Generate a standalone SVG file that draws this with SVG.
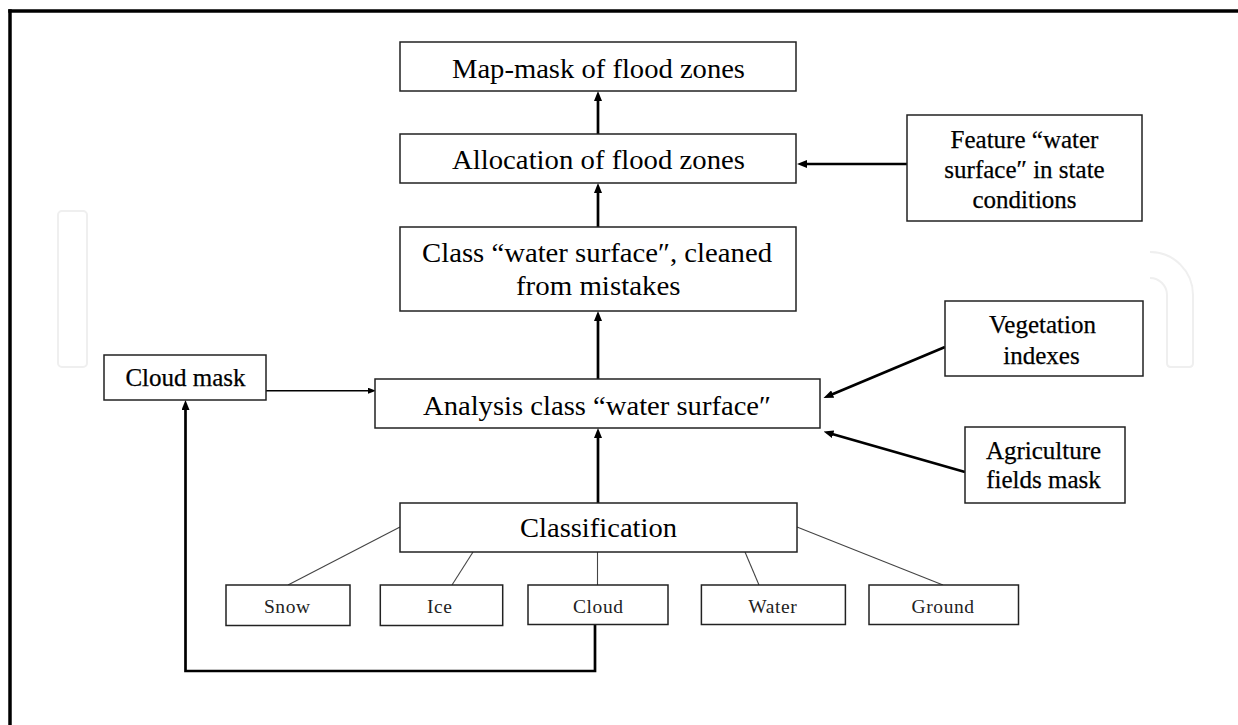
<svg xmlns="http://www.w3.org/2000/svg" width="1238" height="725" viewBox="0 0 1238 725" font-family="Liberation Serif, serif">
  <style>
    .box { fill: #fff; stroke: #222; stroke-width: 1.5; }
    .main { font-family: 'Liberation Serif', serif; font-size: 27.5px; fill: #000; }
    .side { font-family: 'Liberation Serif', serif; font-size: 25px; fill: #000; stroke: #000; stroke-width: 0.25; text-anchor: middle; }
    .small { font-family: 'Liberation Serif', serif; font-size: 19.5px; fill: #222; letter-spacing: 0.6px; text-anchor: middle; }
    .thick { fill: none; stroke: #000; stroke-width: 2.7; }
    .thin { fill: none; stroke: #000; stroke-width: 1.5; }
    .tree { fill: none; stroke: #444; stroke-width: 1.1; }
    .wm { fill: none; stroke: #efefef; stroke-width: 2; }
  </style>
  <defs>
    <marker id="ah" markerUnits="userSpaceOnUse" viewBox="0 0 10 8" markerWidth="10" markerHeight="8" refX="1" refY="4" orient="auto">
      <path d="M0,0 L10,4 L0,8 z" fill="#000"/>
    </marker>
    <marker id="ahs" markerUnits="userSpaceOnUse" viewBox="0 0 8 6" markerWidth="8" markerHeight="6" refX="1" refY="3" orient="auto">
      <path d="M0,0 L8,3 L0,6 z" fill="#000"/>
    </marker>
  </defs>

  <rect x="0" y="0" width="1238" height="725" fill="#fff"/>

  <!-- watermark -->
  <g id="watermark">
    <rect class="wm" x="58" y="211" width="29" height="156" rx="4"/>
    <path class="wm" d="M1150 252 A43 43 0 0 1 1193 295 V363 Q1193 367 1189 367 H1171 Q1167 367 1167 363 V295 A17 17 0 0 0 1150 278"/>
  </g>

  <!-- frame -->
  <g id="frame">
    <line x1="8.25" y1="11" x2="1238" y2="11" stroke="#000" stroke-width="3.5"/>
    <line x1="10" y1="9.25" x2="10" y2="725" stroke="#000" stroke-width="3.5"/>
  </g>

  <!-- connectors -->
  <g id="connectors">
    <line class="thick" x1="598" y1="134" x2="598" y2="100" marker-end="url(#ah)"/>
    <line class="thick" x1="598" y1="227" x2="598" y2="192" marker-end="url(#ah)"/>
    <line class="thick" x1="598" y1="379" x2="598" y2="320" marker-end="url(#ah)"/>
    <line class="thick" x1="598" y1="503" x2="598" y2="437" marker-end="url(#ah)"/>
    <line class="thick" x1="907" y1="164" x2="806" y2="164" stroke-width="2.5" marker-end="url(#ah)"/>
    <line class="thick" x1="945" y1="347" x2="831.8" y2="394.5" stroke-width="2.5" marker-end="url(#ah)"/>
    <line class="thick" x1="965" y1="472" x2="832.2" y2="434" stroke-width="2.5" marker-end="url(#ah)"/>
    <line class="thin" x1="266" y1="390.7" x2="369" y2="390.7" marker-end="url(#ahs)"/>
    <path class="thick" d="M595 624 V671 H185.5 V409" stroke-width="3" marker-end="url(#ah)"/>
    <line class="tree" x1="400" y1="527" x2="288" y2="585"/>
    <line class="tree" x1="473" y1="552" x2="452" y2="585"/>
    <line class="tree" x1="597.5" y1="552" x2="597.5" y2="585"/>
    <line class="tree" x1="745" y1="552" x2="759" y2="585"/>
    <line class="tree" x1="797" y1="527" x2="943" y2="585"/>
  </g>

  <!-- nodes -->
  <g id="map-mask">
    <rect class="box" x="400" y="42" width="396" height="49"/>
    <text class="main" x="452" y="77.5" textLength="293" lengthAdjust="spacingAndGlyphs">Map-mask of flood zones</text>
  </g>
  <g id="allocation">
    <rect class="box" x="400" y="134" width="396" height="49"/>
    <text class="main" x="452" y="168.5" textLength="293" lengthAdjust="spacingAndGlyphs">Allocation of flood zones</text>
  </g>
  <g id="class-cleaned">
    <rect class="box" x="400" y="227" width="396" height="84"/>
    <text class="main" x="422" y="262" textLength="350" lengthAdjust="spacingAndGlyphs">Class “water surface″, cleaned</text>
    <text class="main" x="516" y="295" textLength="164.5" lengthAdjust="spacingAndGlyphs">from mistakes</text>
  </g>
  <g id="analysis">
    <rect class="box" x="375" y="379" width="445" height="49"/>
    <text class="main" x="423" y="414.5" textLength="348" lengthAdjust="spacingAndGlyphs">Analysis class “water surface″</text>
  </g>
  <g id="classification">
    <rect class="box" x="400" y="503" width="397" height="49"/>
    <text class="main" x="520" y="537" textLength="157" lengthAdjust="spacingAndGlyphs">Classification</text>
  </g>
  <g id="cloud-mask">
    <rect class="box" x="104" y="355" width="162" height="45"/>
    <text class="side" x="185.5" y="386">Cloud mask</text>
  </g>
  <g id="feature">
    <rect class="box" x="907" y="115" width="235" height="106"/>
    <text class="side" x="1024.5" y="148">Feature “water</text>
    <text class="side" x="1024.5" y="178">surface″ in state</text>
    <text class="side" x="1024.5" y="208">conditions</text>
  </g>
  <g id="vegetation">
    <rect class="box" x="945" y="301" width="198" height="75"/>
    <text class="side" x="1042.5" y="333">Vegetation</text>
    <text class="side" x="1041.5" y="363.5">indexes</text>
  </g>
  <g id="agriculture">
    <rect class="box" x="965" y="427" width="160" height="76"/>
    <text class="side" x="1043.5" y="459.3">Agriculture</text>
    <text class="side" x="1043.5" y="488.3">fields mask</text>
  </g>
  <g id="snow">
    <rect class="box" x="226" y="585" width="124" height="40.5"/>
    <text class="small" x="287.3" y="612.7">Snow</text>
  </g>
  <g id="ice">
    <rect class="box" x="380.3" y="585" width="122.4" height="40.5"/>
    <text class="small" x="439.8" y="612.7">Ice</text>
  </g>
  <g id="cloud">
    <rect class="box" x="528" y="585" width="140" height="39.5"/>
    <text class="small" x="598.3" y="612.7">Cloud</text>
  </g>
  <g id="water">
    <rect class="box" x="701.4" y="585" width="144" height="39.5"/>
    <text class="small" x="772.9" y="612.7">Water</text>
  </g>
  <g id="ground">
    <rect class="box" x="869" y="585" width="149.5" height="39.5"/>
    <text class="small" x="943.1" y="612.7">Ground</text>
  </g>
</svg>
